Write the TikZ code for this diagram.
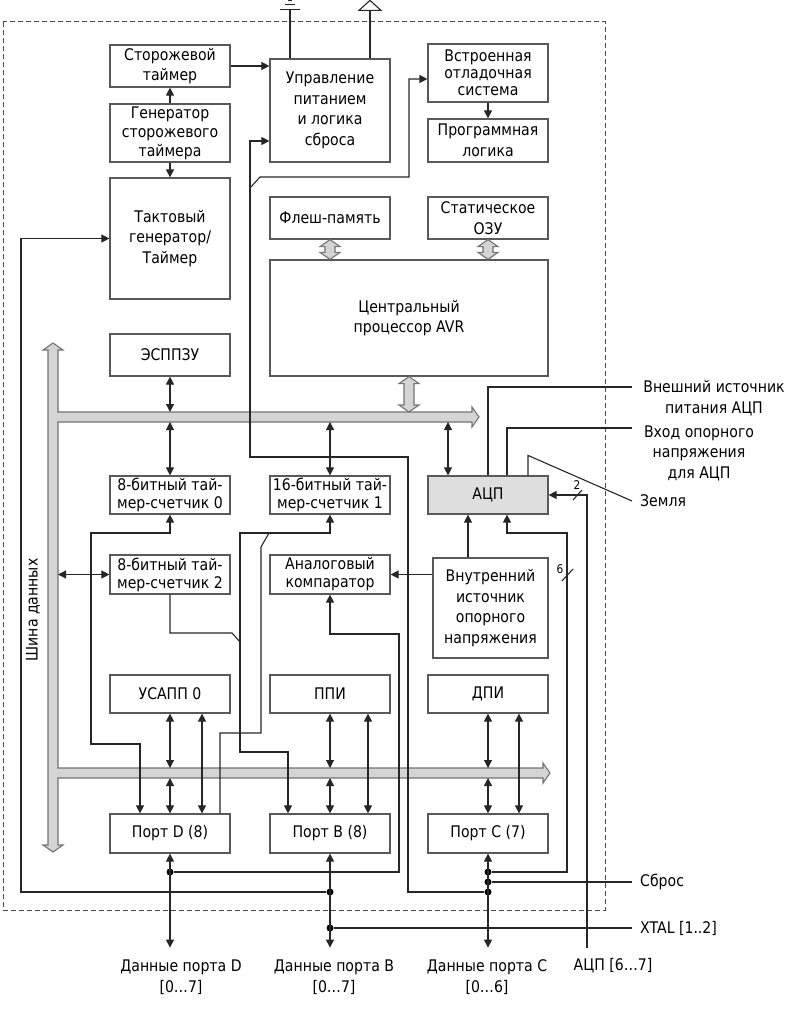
\documentclass[tikz,border=0pt]{standalone}
\usepackage{fontspec}
\setmainfont{DejaVu Sans}[FakeStretch=0.88]
\usetikzlibrary{arrows.meta,calc}

\begin{document}
\begin{tikzpicture}[x=1pt,y=-1pt,
	font=\fontsize{16pt}{20.5pt}\selectfont,
	blk/.style={draw=black!65, line width=1.2pt, fill=white, align=center, inner sep=1pt, minimum width=120pt, minimum height=#1},
	blk/.default=38pt,
	tight/.style={font=\fontsize{16pt}{18pt}\selectfont},
	ln/.style={line width=1.1pt, draw=black!85},
	arr/.style={ln, -{Triangle[length=8pt,width=8pt]}},
	dbl/.style={ln, {Triangle[length=8pt,width=8pt]}-{Triangle[length=8pt,width=8pt]}},
	bus/.style={fill=black!17, draw=black!55, line width=1.1pt},
	dot/.style={circle, fill=black, inner sep=0pt, minimum size=7pt},
	lbl/.style={align=center, inner sep=0pt},
	txt/.style={anchor=west, inner xsep=8pt, inner ysep=1pt},
	small/.style={font=\fontsize{12pt}{12pt}\selectfont, inner sep=0pt}]
	\useasboundingbox (0,0) rectangle (792,1016);
	\draw[black!70, line width=1pt, dash pattern=on 5pt off 3pt] (3,22) rectangle (605,910);

	% blocks
	\node[blk=42pt] (wdt) at (170,66) {Сторожевой\\таймер};
	\node[blk=58pt, font=\fontsize{16pt}{19pt}\selectfont] (wdgen) at (170,133) {Генератор\\сторожевого\\таймера};
	\node[blk=121pt] (clk) at (170,238.5) {Тактовый\\генератор/\\Таймер};
	\node[blk=103pt] (pwr) at (330,110.5) {Управление\\питанием\\и логика\\сброса};
	\node[blk=58pt, font=\fontsize{16pt}{17pt}\selectfont] (dbg) at (488,73) {Встроенная\\отладочная\\система};
	\node[blk=43pt] (prog) at (488,140.5) {Программная\\логика};
	\node[blk=42pt] (flash) at (330,218) {Флеш-память};
	\node[blk=42pt] (sram) at (488,218) {Статическое\\ОЗУ};
	\node[blk=116pt, minimum width=278pt] (cpu) at (409,318) {Центральный\\процессор AVR};
	\node[blk=42pt] (eeprom) at (170,355) {ЭСППЗУ};
	\node[blk, tight] (tc0) at (170,495) {8-битный тай-\\мер-счетчик 0};
	\node[blk, tight] (tc1) at (330,495) {16-битный тай-\\мер-счетчик 1};
	\node[blk, fill=black!13] (adc) at (488,495) {АЦП};
	\node[blk=39pt, tight] (tc2) at (170,574.5) {8-битный тай-\\мер-счетчик 2};
	\node[blk=39pt, tight] (acomp) at (330,574.5) {Аналоговый\\компаратор};
	\node[blk=100pt, minimum width=115pt] (vref) at (490.5,608) {Внутренний\\источник\\опорного\\напряжения};
	\node[blk] (usart) at (170,694) {УСАПП 0};
	\node[blk] (spi) at (330,694) {ППИ};
	\node[blk] (twi) at (488,694) {ДПИ};
	\node[blk=39pt] (portd) at (170,833.5) {Порт D (8)};
	\node[blk=39pt] (portb) at (330,833.5) {Порт B (8)};
	\node[blk=39pt] (portc) at (488,833.5) {Порт C (7)};

	% data bus
	\draw[bus] (53,343) -- (63,350) -- (58,350) -- (58,412) -- (472,412) -- (472,407) -- (479,417) -- (472,427) -- (472,422) -- (58,422)
		-- (58,768) -- (543,768) -- (543,763) -- (550,773) -- (543,783) -- (543,778) -- (58,778) -- (58,845) -- (63,845)
		-- (53,852) -- (43,845) -- (48,845) -- (48,350) -- (43,350) -- cycle;
	\node[rotate=90] (buslbl) at (33,610) {Шина данных};
	\coordinate (busL) at (58,0);
	\coordinate (busT) at (0,412);
	\coordinate (busB) at (0,422);
	\coordinate (busT2) at (0,768);
	\coordinate (busB2) at (0,778);
	\foreach \a/\b in {flash.south/flash.south |- cpu.north, sram.south/sram.south |- cpu.north, cpu.south/cpu.south |- busT}
		\draw[bus] (\a) -- ++(10,7) -- ++(-5,0) -- ($(\b)+(5,-7)$) -- ++(5,0) -- (\b) -- ++(-10,-7) -- ++(5,0) -- ($(\a)+(-5,7)$) -- ++(-5,0) -- cycle;

	% power pins
	\draw[ln] ([xshift=-40pt]pwr.north) -- ++(0,-49) coordinate (gnd);
	\draw[ln] ([xshift=-10pt]gnd) -- ++(20,0) ([xshift=-5pt,yshift=5pt]gnd) -- ++(10,0) ([xshift=-2pt,yshift=9pt]gnd) -- ++(4,0);
	\draw[ln] ([xshift=40pt]pwr.north) -- ++(0,-48) coordinate (vcc);
	\draw[ln, line join=miter] ([xshift=-11pt]vcc) -- ++(22,0) -- ([yshift=10pt]vcc) -- cycle;

	% upper connections
	\draw[arr] (wdt.east) -- (wdt.east -| pwr.west);
	\draw[arr] (wdgen.north) -- (wdt.south);
	\draw[arr] (wdgen.south) -- (clk.north);
	\draw[arr] (dbg.south) -- (prog.north);
	\draw[dbl] (eeprom.south) -- (eeprom.south |- busT);
	\foreach \n in {tc0, tc1}
		\draw[dbl] (\n.north |- busB) -- (\n.north);
	\draw[dbl] ([xshift=-40pt]adc.north |- busB) -- ([xshift=-40pt]adc.north);
	\draw[dbl] (busL |- tc2.west) -- (tc2.west);
	\draw[arr] (acomp.east -| vref.west) -- (acomp.east);
	\draw[arr] ([xshift=-20pt]adc.south |- vref.north) -- ([xshift=-20pt]adc.south);

	% ports
	\foreach \n/\x/\y in {pd1/170/872, pb1/330/892, pb2/330/928, pc1/488/872, pc2/488/882, pc3/488/892}
		\node[dot] (\n) at (\x,\y) {};
	\foreach \u/\p/\s in {usart/portd/32, spi/portb/38, twi/portc/31} {
		\draw[dbl] (\u.south) -- (\u.south |- busT2);
		\draw[dbl] (\p.north |- busB2) -- (\p.north);
		\draw[dbl] ([xshift=\s pt]\u.south) -- ([xshift=\s pt]\p.north);
		\draw[dbl] (\p.south) -- ++(0,94);
	}
	\draw[dbl] ([xshift=-30pt]portd.north) |- (91,744) |- (170,533) -- (tc0.south);
	\draw[dbl] ([xshift=-42pt]portb.north) |- (240,752) |- (330,533) -- (tc1.south);
	\draw[ln] (tc2.south) |- (232,633) -- (240,642);
	\draw[ln] ([xshift=50pt]portd.north) |- (261,733) -- (261,547) -- (269,533);
	\draw[arr] (pd1) -| (399,634) -| (acomp.south);
	\draw[arr] (pc3) -| (408,457) -| (250,141) -- ([yshift=-30.5pt]pwr.west);
	\draw[arr] (250,188) -- (260,177) -| (409,79) -- ([yshift=-6pt]dbg.west);
	\draw[arr] (pb1) -| (21,238.5) -- (clk.west);
	\draw[arr] (pc1) -| (567,533) -| ([xshift=19pt]adc.south);
	\draw[ln] (562,581) -- (573,569);
	\node[small] (six) at (560,569) {6};

	% ADC pins
	\coordinate (avcc) at (632,387);
	\coordinate (aref) at (632,428);
	\coordinate (adcin) at (587,948);
	\node[txt] (agnd) at (632,501) {Земля};
	\draw[ln] (adc.north) |- (avcc);
	\draw[ln] ([xshift=19pt]adc.north) |- (aref);
	\draw[ln] ([xshift=40pt]adc.north) -- ++(0,-20) -- (agnd.west);
	\draw[arr] (adcin) |- (adc.east);
	\draw[ln] (573,500) -- (582,490);
	\node[small] (two) at (577,485) {2};
	\node[lbl] (avcctxt) at (714,398) {Внешний источник\\питания АЦП};
	\node[lbl] (areftxt) at (699,453) {Вход опорного\\напряжения\\для АЦП};

	% outside pins
	\node[txt] (reset) at (632,882) {Сброс};
	\node[txt] (xtal) at (632,928) {XTAL [1..2]};
	\draw[ln] (pc2) -- (reset.west);
	\draw[ln] (pb2) -- (xtal.west);
	\node[lbl] (pdtxt) at (181,977) {Данные порта D\\{}[0…7]};
	\node[lbl] (pbtxt) at (334,977) {Данные порта B\\{}[0…7]};
	\node[lbl] (pctxt) at (487,977) {Данные порта C\\{}[0…6]};
	\node[lbl] (adctxt) at (613,966) {АЦП [6…7]};
\end{tikzpicture}
\end{document}
